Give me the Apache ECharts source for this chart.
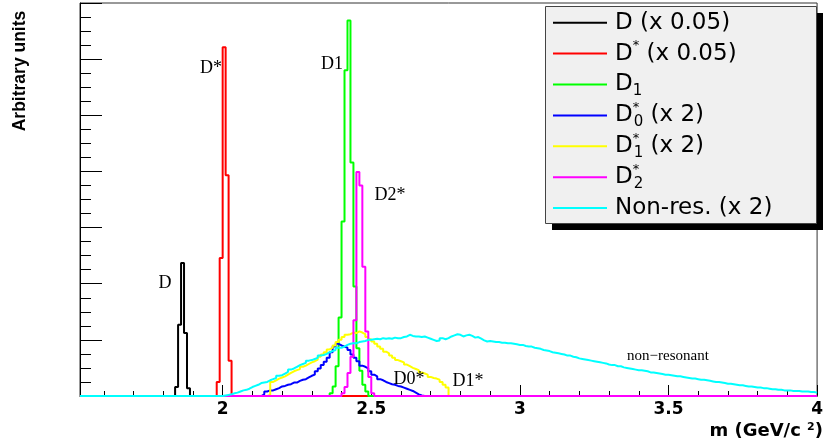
<!DOCTYPE html>
<html><head><meta charset="utf-8">
<script src="https://cdn.jsdelivr.net/npm/echarts@6/dist/echarts.min.js"></script>
<style>html,body{margin:0;padding:0;background:#fff}#c{width:826px;height:446px}</style>
</head><body><div id="c"></div>
<script>
// ---- axis / binning ----
const xMin = 1.52, xMax = 4.00, binW = 0.01;
const xMajorTicks = [2, 2.5, 3, 3.5, 4];
const xMinorTicks = [1.6,1.7,1.8,1.9,2.1,2.2,2.3,2.4,2.6,2.7,2.8,2.9,3.1,3.2,3.3,3.4,3.6,3.7,3.8,3.9];
const yMin = 0, yMax = 7;

// ---- series (name, colour, first bin low edge, bin contents) ----
const names = ['D (x 0.05)', 'D* (x 0.05)', 'D1', 'D0* (x 2)', 'D1* (x 2)', 'D2*', 'Non-res. (x 2)'];
const colors = ['#000000', '#ff0000', '#00ff00', '#0000ff', '#ffff00', '#ff00ff', '#00ffff'];

const dStart = 1.84;
const dValues = [0.16, 1.27, 2.37, 1.12, 0.14];

const dstarStart = 1.98;
const dstarValues = [0.25, 2.46, 6.21, 3.93, 0.63];

const d1Start = 2.36;
const d1Values = [0.05, 0.17, 0.53, 1.40, 3.11, 5.80, 6.69, 4.16, 1.95, 0.85, 0.45, 0.20, 0.08];

const d0starStart = 2.13;
const d0starValues = [
  0.03,0.08,0.10,0.10,0.12,0.14,0.17,0.18,0.20,0.21,
  0.24,0.24,0.27,0.29,0.30,0.33,0.36,0.38,0.44,0.49,
  0.55,0.61,0.68,0.78,0.88,0.93,0.90,0.88,0.86,0.82,
  0.74,0.68,0.62,0.54,0.52,0.49,0.44,0.38,0.35,0.30,
  0.28,0.25,0.23,0.21,0.20,0.18,0.17,0.15,0.13,0.11,
  0.09,0.06,0.03,0.01];

const d1starStart = 2.15;
const d1starValues = [
  0.02,0.25,0.28,0.31,0.33,0.35,0.38,0.41,0.44,0.46,
  0.48,0.52,0.54,0.57,0.60,0.62,0.65,0.70,0.74,0.78,
  0.83,0.86,0.90,0.96,1.00,1.05,1.09,1.10,1.13,1.12,
  1.15,1.13,1.10,1.05,1.01,0.97,0.93,0.88,0.84,0.79,
  0.76,0.72,0.68,0.64,0.62,0.60,0.56,0.53,0.50,0.48,
  0.46,0.42,0.40,0.38,0.34,0.32,0.31,0.29,0.25,0.20,
  0.15];

const d2starStart = 2.40;
const d2starValues = [0.05, 0.16, 0.41, 0.70, 1.35, 3.99, 3.75, 2.30, 1.15, 0.34, 0.05];

const nonresStart = 2.00;
const nonresValues = [
  0.01,0.02,0.03,0.05,0.06,0.08,0.10,0.11,0.13,0.16,
  0.18,0.20,0.23,0.24,0.25,0.28,0.30,0.32,0.36,0.37,
  0.40,0.43,0.47,0.49,0.52,0.55,0.57,0.59,0.63,0.64,
  0.66,0.68,0.72,0.73,0.75,0.78,0.80,0.82,0.86,0.86,
  0.88,0.91,0.93,0.94,0.94,0.96,0.97,0.98,1.00,1.00,
  1.01,1.02,1.01,1.03,1.02,1.03,1.02,1.04,1.03,1.03,
  1.05,1.06,1.09,1.07,1.06,1.06,1.05,1.06,1.04,1.02,
  1.00,0.98,0.99,1.03,1.01,1.03,1.06,1.08,1.10,1.09,
  1.06,1.08,1.09,1.07,1.04,1.05,1.02,0.99,0.97,0.98,
  0.97,0.96,0.96,0.95,0.95,0.94,0.94,0.93,0.92,0.91,
  0.91,0.89,0.88,0.88,0.86,0.85,0.84,0.82,0.81,0.80,
  0.78,0.77,0.76,0.75,0.74,0.72,0.72,0.70,0.69,0.67,
  0.66,0.65,0.64,0.63,0.62,0.61,0.60,0.59,0.58,0.56,
  0.55,0.55,0.53,0.53,0.51,0.50,0.49,0.48,0.47,0.46,
  0.46,0.45,0.44,0.42,0.42,0.41,0.40,0.39,0.38,0.38,
  0.37,0.36,0.35,0.35,0.34,0.33,0.32,0.31,0.31,0.30,
  0.29,0.29,0.28,0.27,0.26,0.25,0.25,0.24,0.23,0.22,
  0.22,0.21,0.20,0.19,0.19,0.18,0.17,0.17,0.16,0.15,
  0.15,0.14,0.14,0.13,0.12,0.12,0.11,0.11,0.10,0.10,
  0.10,0.09,0.09,0.09,0.08,0.08,0.08,0.07,0.07,0.06];

const starts = [dStart, dstarStart, d1Start, d0starStart, d1starStart, d2starStart, nonresStart];
const contents = [dValues, dstarValues, d1Values, d0starValues, d1starValues, d2starValues, nonresValues];

function histPoints(start, vals) {
  const n = Math.round((xMax - xMin) / binW);
  const pts = [];
  let last = 0;
  for (let i = 0; i < n; i++) {
    const x = +(xMin + i * binW).toFixed(2);
    const k = Math.round((x - start) / binW);
    const v = (k >= 0 && k < vals.length) ? vals[k] : 0;
    pts.push([x, v]);
    last = v;
  }
  pts.push([xMax, last]);
  return pts;
}

const legendRich = {
  'D (x 0.05)': 'D (x 0.05)',
  'D* (x 0.05)': 'D{sup|*} (x 0.05)',
  'D1': 'D{sub|1}',
  'D0* (x 2)': 'D{supz|*}{sub|0} (x 2)',
  'D1* (x 2)': 'D{supz|*}{sub|1} (x 2)',
  'D2*': 'D{supz|*}{sub|2}',
  'Non-res. (x 2)': 'Non-res. (x 2)'
};

const chart = echarts.init(document.getElementById('c'), null, {renderer: 'canvas'});
const serif = '"Liberation Serif", "DejaVu Serif", serif';

chart.setOption({
  animation: false,
  backgroundColor: '#ffffff',
  grid: {left: 80, right: 1, top: 3, bottom: 50, show: true, borderColor: '#333', borderWidth: 1, backgroundColor: 'transparent'},
  xAxis: [
    {type: 'value', min: xMin, max: xMax, position: 'bottom',
     axisLine: {show: true, onZero: false, lineStyle: {color: '#000', width: 1}},
     axisTick: {show: true, inside: true, length: 11, customValues: xMajorTicks, lineStyle: {color: '#000', width: 1}},
     axisLabel: {show: true, customValues: xMajorTicks, margin: 5, color: '#000', fontFamily: 'DejaVu Sans', fontWeight: 'bold', fontSize: 17},
     splitLine: {show: false}},
    {type: 'value', min: xMin, max: xMax, position: 'bottom',
     axisLine: {show: false},
     axisTick: {show: true, inside: true, length: 5, customValues: xMinorTicks, lineStyle: {color: '#000', width: 1}},
     axisLabel: {show: false},
     splitLine: {show: false}}
  ],
  yAxis: {type: 'value', min: yMin, max: yMax, interval: 1,
    axisLine: {show: true, lineStyle: {color: '#000', width: 1}},
    axisTick: {show: true, inside: true, length: 22, lineStyle: {color: '#000', width: 1}},
    minorTick: {show: true, splitNumber: 4, length: 11, lineStyle: {color: '#000', width: 1}},
    axisLabel: {show: false},
    splitLine: {show: false}, minorSplitLine: {show: false}},
  legend: {
    orient: 'vertical', left: 553, top: 8.7, padding: 0, z: 10,
    itemWidth: 54, itemHeight: 2, itemGap: 2.9, icon: 'rect', selectedMode: false,
    data: names,
    formatter: function (n) { return legendRich[n]; },
    textStyle: {
      fontFamily: 'DejaVu Sans', fontSize: 23, color: '#000', lineHeight: 28, padding: [0, 0, 0, 3],
      rich: {
        sup: {fontFamily: 'DejaVu Sans', fontSize: 13, lineHeight: 14, verticalAlign: 'top', color: '#000'},
        supz: {fontFamily: 'DejaVu Sans', fontSize: 13, lineHeight: 14, verticalAlign: 'top', width: 1, color: '#000'},
        sub: {fontFamily: 'DejaVu Sans', fontSize: 15, lineHeight: 14, verticalAlign: 'bottom', color: '#000'}
      }
    }
  },
  graphic: [
    {type: 'rect', z: 5, shape: {x: 552, y: 13, width: 271, height: 217}, style: {fill: '#000'}},
    {type: 'rect', z: 6, shape: {x: 545.5, y: 6.5, width: 271, height: 217}, style: {fill: '#f0f0f0', stroke: '#444', lineWidth: 1}},
    {type: 'text', z: 20, x: 20, y: 71, rotation: Math.PI / 2,
     style: {text: 'Arbitrary units', font: 'bold 17.5px "Liberation Sans", Arial, sans-serif', fill: '#000', align: 'center', verticalAlign: 'middle'}},
    {type: 'text', z: 20, x: 823, y: 431,
     style: {text: 'm (GeV/c {s|2})', font: 'bold 18px "DejaVu Sans", sans-serif', fill: '#000', align: 'right', verticalAlign: 'middle',
       rich: {s: {font: 'bold 11px "DejaVu Sans", sans-serif', fill: '#000', lineHeight: 10, verticalAlign: 'top', padding: [0, 0, 0, 0]}}}},
    {type: 'text', z: 20, x: 165, y: 283, style: {text: 'D', font: '18px ' + serif, fill: '#000', align: 'center', verticalAlign: 'middle'}},
    {type: 'text', z: 20, x: 211, y: 68, style: {text: 'D*', font: '18px ' + serif, fill: '#000', align: 'center', verticalAlign: 'middle'}},
    {type: 'text', z: 20, x: 332, y: 64, style: {text: 'D1', font: '18px ' + serif, fill: '#000', align: 'center', verticalAlign: 'middle'}},
    {type: 'text', z: 20, x: 390, y: 195, style: {text: 'D2*', font: '18px ' + serif, fill: '#000', align: 'center', verticalAlign: 'middle'}},
    {type: 'text', z: 20, x: 409, y: 379, style: {text: 'D0*', font: '18px ' + serif, fill: '#000', align: 'center', verticalAlign: 'middle'}},
    {type: 'text', z: 20, x: 468, y: 381, style: {text: 'D1*', font: '18px ' + serif, fill: '#000', align: 'center', verticalAlign: 'middle'}},
    {type: 'text', z: 20, x: 668, y: 356, style: {text: 'non\u2212resonant', font: '15px ' + serif, fill: '#000', align: 'center', verticalAlign: 'middle'}}
  ],
  series: names.map(function (nm, i) {
    return {
      name: nm, type: 'line', step: 'end', xAxisIndex: 0, yAxisIndex: 0,
      showSymbol: false, symbol: 'none', clip: false, z: 2 + i * 0.01,
      color: colors[i],
      lineStyle: {color: colors[i], width: 2},
      data: histPoints(starts[i], contents[i])
    };
  })
});
</script>
</body></html>
